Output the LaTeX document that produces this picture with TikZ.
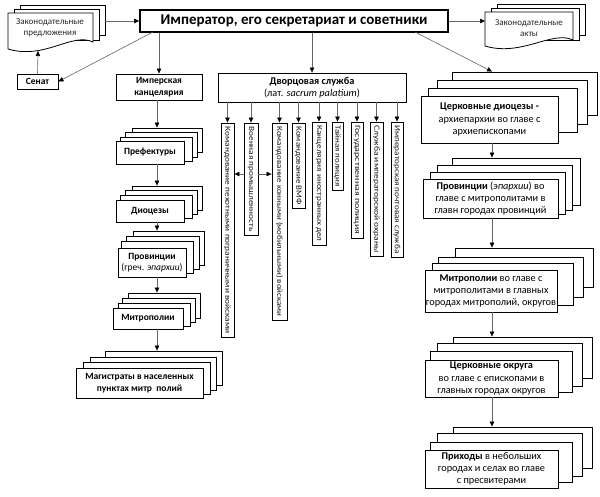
\documentclass[tikz,border=0pt]{standalone}
\usepackage{fontspec}
\setmainfont{Carlito}
\usetikzlibrary{arrows.meta}
\tikzset{
  sheetst/.style={draw=black, line width=0.9pt, fill=white, inner sep=0pt},
  boxst/.style={draw=black, line width=0.9pt, fill=white, inner sep=0pt, align=center,
    font=\fontsize{10.3}{12.3}\selectfont},
  smallst/.style={boxst, font=\fontsize{9.5}{11.5}\selectfont\bfseries},
  titlest/.style={boxst, line width=1.8pt, font=\fontsize{15}{18}\selectfont\bfseries},
  vboxst/.style={draw=black, line width=0.9pt, fill=white, inner sep=0pt,
    font=\fontsize{8}{9}\selectfont, text=black!90},
  doctext/.style={align=center, inner sep=0pt, font=\fontsize{9}{11}\selectfont, text=black!85},
  docst/.style={draw=black, line width=0.8pt, fill=white},
  arr/.style={draw=black!60, line width=0.6pt, -{Triangle[length=5pt,width=4.5pt,black]}},
}
% \bx[opts]{name}{x1}{y1}{x2}{y2}{text}
\newcommand\bx[7][]{\node[boxst,#1,minimum width={(#5-#3)*1pt},minimum height={(#6-#4)*1pt}] (#2) at ({(#3+#5)/2},{(#4+#6)/2}) {#7};}
% vertical box
\newcommand\vb[6]{\node[vboxst, rotate=-90, minimum width={(#5-#3)*1pt}, minimum height={(#4-#2)*1pt}] (#1) at ({(#2+#4)/2},{(#3+#5)/2}) {\resizebox{\dimexpr #5pt-#3pt-7pt\relax}{\height}{#6}};}
\begin{document}
\begin{tikzpicture}[x=1pt,y=-1pt]
\useasboundingbox (0,0) rectangle (600,496);
\fill[white] (0,0) rectangle (600,496);

% ---------- left document stack
\draw[docst] (20,5) rectangle (105,35);
\draw[docst] (14,9) rectangle (99,40);
\draw[docst] (8,13) -- (93,13) -- (93,42) .. controls (72,32) and (45,60) .. (8,49) -- cycle;
\node[doctext] (docL) at (50,28) {Законодательные\\предложения};
\coordinate (docLr) at (105,21);
\coordinate (docLb) at (38,51);

% ---------- right document stack
\draw[docst] (497,4) rectangle (585,35);
\draw[docst] (491,8) rectangle (579,40);
\draw[docst] (485,12) -- (573,12) -- (573,40) .. controls (552,30) and (522,57) .. (485,46) -- cycle;
\node[doctext] (docR) at (529,28) {Законодательные\\акты};
\coordinate (docRl) at (485,21);

% ---------- top boxes
\bx[titlest]{title}{140}{10}{448}{32}{Император, его секретариат и советники}
\bx[smallst]{senat}{17}{74}{58}{89}{Сенат}
\bx[smallst]{chan}{116}{74}{202}{100}{Имперская\\канцелярия}
\bx[boxst]{dv}{218}{73}{406}{102}{\textbf{Дворцовая служба}\\(лат. \textit{sacrum palatium})}

\coordinate (t1) at (153,32);
\coordinate (t2) at (415,32);
\draw[arr] (docLr) -- (title.west);
\draw[arr] (title.east) -- (docRl);
\draw[arr] (senat.north) -- (docLb);
\draw[arr] (t1) -- (senat.east);
\draw[arr] (chan.north |- title.south) -- (chan.north);
\draw[arr] (dv.north |- title.south) -- (dv.north);

% ---------- left column stacks
\bx[sheetst]{prefB}{132}{128}{202}{152}{}
\bx[sheetst]{pref2}{125}{132}{197}{157}{}
\bx[sheetst]{pref1}{120}{137}{192}{161}{}
\bx[smallst]{pref}{116}{141}{184}{164}{Префектуры}

\bx[sheetst]{diocB}{132}{186}{202}{210}{}
\bx[sheetst]{dioc2}{125}{190}{197}{214}{}
\bx[sheetst]{dioc1}{120}{195}{192}{218}{}
\bx[smallst]{dioc}{116}{200}{184}{222}{Диоцезы}

\bx[sheetst]{provB}{133}{231}{204}{265}{}
\bx[sheetst]{prov2}{126}{236}{199}{269}{}
\bx[sheetst]{prov1}{121}{241}{193}{273}{}
\bx[smallst]{prov}{118}{248}{186}{277}{Провинции\\\mdseries(греч. \textit{эпархии})}

\bx[sheetst]{metB}{128}{293}{200}{318}{}
\bx[sheetst]{met2}{122}{298}{195}{322}{}
\bx[sheetst]{met1}{118}{303}{190}{326}{}
\bx[smallst]{met}{113}{308}{183}{329}{Митрополии}

\bx[sheetst]{magB}{105}{351}{222}{385}{}
\bx[sheetst]{mag2}{90}{357}{216}{390}{}
\bx[sheetst]{mag1}{83}{362}{210}{394}{}
\bx[smallst]{mag}{76}{368}{203}{398}{Магистраты в населенных\\пунктах митр\ \ полий}

\coordinate (axL) at (157,0);
\draw[arr] (chan.south -| axL) -- (prefB.north -| axL);
\draw[arr] (pref.south -| axL) -- (diocB.north -| axL);
\draw[arr] (dioc.south -| axL) -- (provB.north -| axL);
\draw[arr] (prov.south -| axL) -- (metB.north -| axL);
\draw[arr] (met.south -| axL) -- (magB.north -| axL);

% ---------- palace service vertical boxes
\vb{v1}{221}{123}{234}{337}{Командование пехотными пограничными войсками}
\vb{v2}{244}{123}{258}{235}{Военная промышленность}
\vb{v3}{272}{123}{287}{320}{Командование конными (мобильными) войсками}
\vb{v4}{292}{123}{305}{208}{Командование ВМФ}
\vb{v5}{312}{122}{326}{245}{Канцелярия иностранных дел}
\vb{v6}{332}{122}{343}{190}{Тайная полиция}
\vb{v7}{351}{122}{363}{238}{Государственная полиция}
\vb{v8}{370}{122}{383}{256}{Служба императорской охраны}
\vb{v9}{391}{122}{403}{257}{Императорская почтовая служба}

\foreach \v in {v1,v2,v3,v4,v5,v6,v7,v8,v9}
  \draw[arr] (dv.south -| \v.west) -- (\v.west);
\coordinate (r) at (0,174);
\draw[arr] (v2.south |- r) -- (v1.north |- r);
\draw[arr] (v2.north |- r) -- (v3.south |- r);

% ---------- right column stacks
\bx[sheetst]{cdB}{452}{72}{597}{115}{}
\bx[sheetst]{cd2}{437}{80}{587}{124}{}
\bx[sheetst]{cd1}{428}{88}{577}{132}{}
\bx[boxst]{cd}{421}{96}{558}{143}{\textbf{Церковные диоцезы -}\\архиепархии во главе с\\архиепископами}

\bx[sheetst]{cpB}{452}{158}{580}{205}{}
\bx[sheetst]{cp2}{437}{165}{572}{210}{}
\bx[sheetst]{cp1}{430}{172}{565}{214}{}
\bx[boxst]{cp}{423}{179}{558}{218}{\textbf{Провинции} (\textit{эпархии}) во\\главе с митрополитами в\\главн городах провинций}

\bx[sheetst]{cmB}{455}{248}{593}{287}{}
\bx[sheetst]{cm2}{438}{257}{583}{297}{}
\bx[sheetst]{cm1}{432}{263}{573}{305}{}
\bx[boxst]{cm}{425}{270}{557}{312}{\textbf{Митрополии} во главе с\\митрополитами в главных\\городах митрополий, округов}

\bx[sheetst]{coB}{453}{337}{592}{378}{}
\bx[sheetst]{co2}{437}{343}{582}{386}{}
\bx[sheetst]{co1}{430}{351}{572}{392}{}
\bx[boxst]{co}{425}{360}{558}{397}{\textbf{Церковные округа}\\во главе с епископами в\\главных городах округов}

\bx[sheetst]{crB}{453}{427}{592}{468}{}
\bx[sheetst]{cr2}{437}{433}{582}{476}{}
\bx[sheetst]{cr1}{430}{442}{572}{482}{}
\bx[boxst]{cr}{425}{450}{558}{488}{\textbf{Приходы} в небольших\\городах и селах во главе\\с пресвитерами}

\coordinate (axR) at (492,0);
\draw[arr] (t2) -- (cdB.north -| axR);
\draw[arr] (cd.south -| axR) -- (cpB.north -| axR);
\draw[arr] (cp.south -| axR) -- (cmB.north -| axR);
\draw[arr] (cm.south -| axR) -- (coB.north -| axR);
\draw[arr] (co.south -| axR) -- (crB.north -| axR);
\end{tikzpicture}
\end{document}
